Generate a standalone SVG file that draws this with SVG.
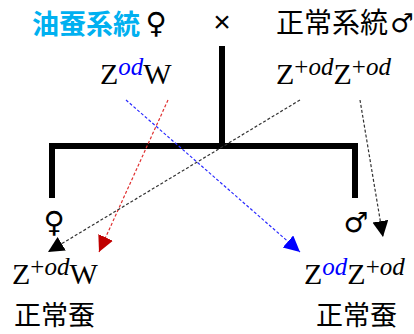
<svg xmlns="http://www.w3.org/2000/svg" width="414" height="334" viewBox="0 0 414 334">
<style>
.jp{font-family:"Noto Sans CJK JP","Noto Sans CJK SC",sans-serif;fill:#000}
.sym{font-family:"DejaVu Sans",sans-serif;fill:#000;text-anchor:middle}
.f{font-family:"Liberation Serif","Times New Roman",serif;font-size:30px;fill:#000}
.s{font-size:25px}
.i{font-style:italic}
.bar{fill:none;stroke:#000;stroke-width:6;stroke-linejoin:miter;stroke-linecap:butt}
.ln{fill:none;stroke-width:1.2;stroke-dasharray:3,2}
</style>
<defs>
<marker id="ab" markerUnits="userSpaceOnUse" markerWidth="17" markerHeight="17" refX="16" refY="8" orient="auto"><path d="M0,0 L16,8 L0,16 z" fill="#000"/></marker>
<marker id="ar" markerUnits="userSpaceOnUse" markerWidth="17" markerHeight="17" refX="16" refY="8" orient="auto"><path d="M0,0 L16,8 L0,16 z" fill="#c00000"/></marker>
<marker id="au" markerUnits="userSpaceOnUse" markerWidth="17" markerHeight="17" refX="16" refY="8" orient="auto"><path d="M0,0 L16,8 L0,16 z" fill="#0000ff"/></marker>
</defs>
<g id="header">
<text class="jp" x="32" y="34" font-size="27" font-weight="bold" style="fill:#00b0f0">油蚕系統</text>
<text class="sym" x="156" y="33" font-size="29">♀</text>
<text x="222" y="32" font-family="Liberation Sans,Arial,sans-serif" font-size="30" text-anchor="middle">×</text>
<text class="jp" x="276" y="33" font-size="28">正常系統</text>
<text class="sym" x="402" y="32" font-size="26">♂</text>
</g>
<g id="bars">
<path class="bar" d="M222,46 V146"/>
<path class="bar" d="M52,198 V146 H355 V198"/>
</g>
<g id="parent-female">
<text class="f" x="100" y="84">Z<tspan class="s i" dy="-9" fill="#0000ff">od</tspan><tspan dy="9">W</tspan></text>
</g>
<g id="parent-male">
<text class="f" x="276" y="84">Z<tspan class="s" dy="-9">+</tspan><tspan class="s i">od</tspan><tspan dy="9">Z</tspan><tspan class="s" dy="-9">+</tspan><tspan class="s i">od</tspan></text>
</g>
<g id="child-female">
<text class="sym" x="54" y="232" font-size="29">♀</text>
<text class="f" x="12" y="284">Z<tspan class="s" dy="-9">+</tspan><tspan class="s i">od</tspan><tspan dy="9">W</tspan></text>
<text class="jp" x="14" y="325" font-size="27">正常蚕</text>
</g>
<g id="child-male">
<text class="sym" x="356" y="232" font-size="28">♂</text>
<text class="f" x="304" y="284">Z<tspan class="s i" dy="-9" fill="#0000ff">od</tspan><tspan dy="9">Z</tspan><tspan class="s" dy="-9">+</tspan><tspan class="s i">od</tspan></text>
<text class="jp" x="316" y="325" font-size="27">正常蚕</text>
</g>
<g id="connectors">
<path class="ln" d="M126,100 L300,252" stroke="#2a2aff" marker-end="url(#au)"/>
<path class="ln" d="M168,100 L99,252" stroke="#e03030" marker-end="url(#ar)"/>
<path class="ln" d="M300,100 L48,252" stroke="#333" marker-end="url(#ab)"/>
<path class="ln" d="M360,100 L383,237" stroke="#333" marker-end="url(#ab)"/>
</g>
</svg>
